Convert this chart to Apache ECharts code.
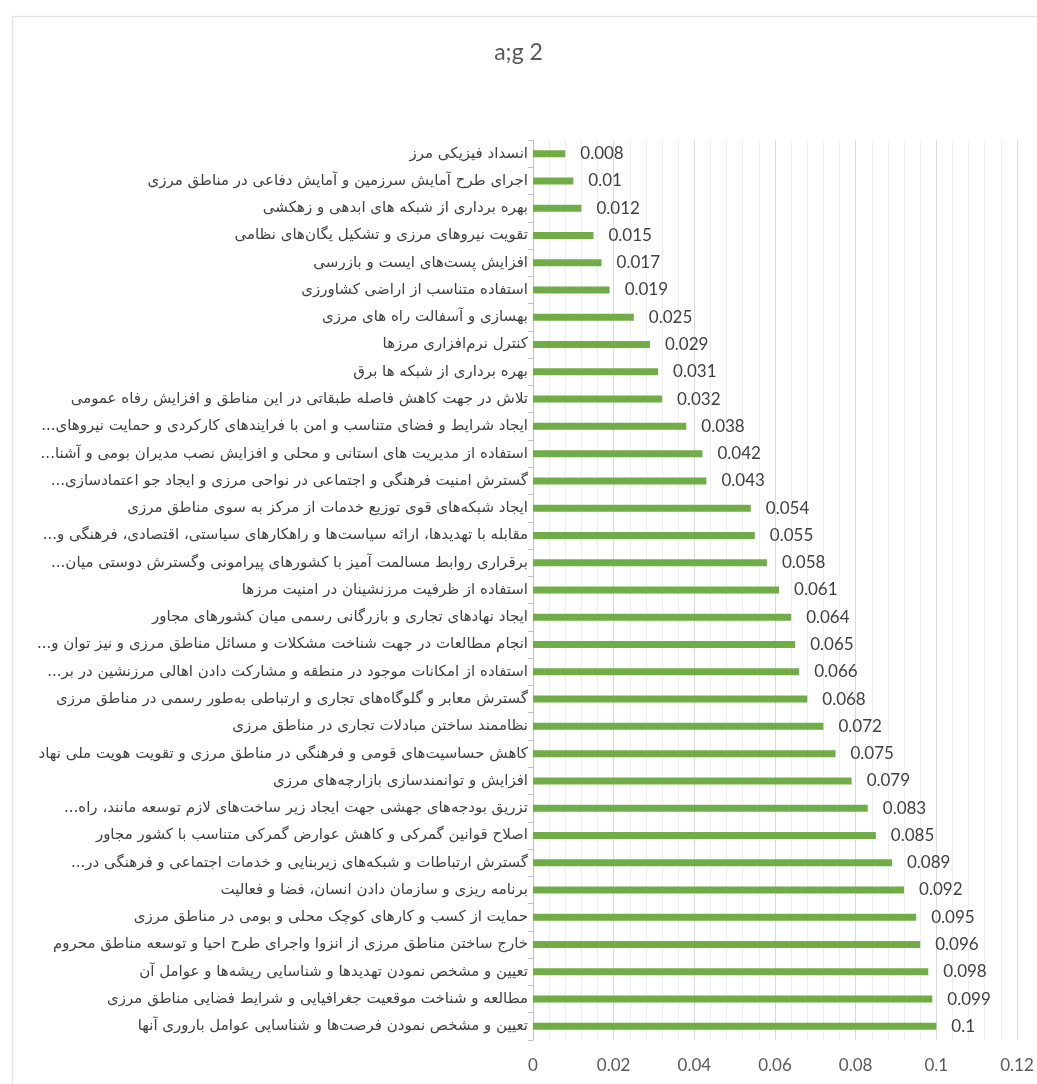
<!DOCTYPE html>
<html>
<head>
<meta charset="utf-8">
<script src="https://cdn.jsdelivr.net/npm/echarts@6/dist/echarts.min.js"></script>
<style>
html,body{margin:0;padding:0;background:#fff;}
#chart{width:1037px;height:1084px;}
</style>
</head>
<body>
<div id="chart"></div>
<script>
// categories, top to bottom
const categories = [
  "انسداد فیزیکی مرز",
  "اجرای طرح آمایش سرزمین و آمایش دفاعی در مناطق مرزی",
  "بهره برداری از شبکه های ابدهی و زهکشی",
  "تقویت نیروهای مرزی و تشکیل یگان‌های نظامی",
  "افزایش پست‌های ایست و بازرسی",
  "استفاده متناسب از اراضی کشاورزی",
  "بهسازی و آسفالت راه های مرزی",
  "کنترل نرم‌افزاری مرزها",
  "بهره برداری از شبکه ها برق",
  "تلاش در جهت کاهش فاصله طبقاتی در این مناطق و افزایش رفاه عمومی",
  "ایجاد شرایط و فضای متناسب و امن با فرایندهای کارکردی و حمایت نیروهای...",
  "استفاده از مدیریت های استانی و محلی و افزایش نصب مدیران بومی و آشنا...",
  "گسترش امنیت فرهنگی و اجتماعی در نواحی مرزی و ایجاد جو اعتمادسازی...",
  "ایجاد شبکه‌های قوی توزیع خدمات از مرکز به سوی مناطق مرزی",
  "مقابله با تهدیدها، ارائه سیاست‌ها و راهکارهای سیاستی، اقتصادی، فرهنگی و...",
  "برقراری روابط مسالمت آمیز با کشورهای پیرامونی وگسترش دوستی میان...",
  "استفاده از ظرفیت مرزنشینان در امنیت مرزها",
  "ایجاد نهادهای تجاری و بازرگانی رسمی میان کشورهای مجاور",
  "انجام مطالعات در جهت شناخت مشکلات و مسائل مناطق مرزی و نیز توان و...",
  "استفاده از امکانات موجود در منطقه و مشارکت دادن اهالی مرزنشین در بر...",
  "گسترش معابر و گلوگاه‌های تجاری و ارتباطی به‌طور رسمی در مناطق مرزی",
  "نظاممند ساختن مبادلات تجاری در مناطق مرزی",
  "کاهش حساسیت‌های قومی و فرهنگی در مناطق مرزی و تقویت هویت ملی نهاد",
  "افزایش و توانمندسازی بازارچه‌های مرزی",
  "تزریق بودجه‌های جهشی جهت ایجاد زیر ساخت‌های لازم توسعه مانند، راه...",
  "اصلاح قوانین گمرکی و کاهش عوارض گمرکی متناسب با کشور مجاور",
  "گسترش ارتباطات و شبکه‌های زیربنایی و خدمات اجتماعی و فرهنگی در...",
  "برنامه ریزی و سازمان دادن انسان، فضا و فعالیت",
  "حمایت از کسب و کارهای کوچک محلی و بومی در مناطق مرزی",
  "خارج ساختن مناطق مرزی از انزوا واجرای طرح احیا و توسعه مناطق محروم",
  "تعیین و مشخص نمودن تهدیدها و شناسایی ریشه‌ها و عوامل آن",
  "مطالعه و شناخت موقعیت جغرافیایی و شرایط فضایی مناطق مرزی",
  "تعیین و مشخص نمودن فرصت‌ها و شناسایی عوامل باروری آنها"
];
const values = [
  0.008, 0.01, 0.012, 0.015, 0.017, 0.019, 0.025, 0.029, 0.031, 0.032,
  0.038, 0.042, 0.043, 0.054, 0.055, 0.058, 0.061, 0.064, 0.065, 0.066,
  0.068, 0.072, 0.075, 0.079, 0.083, 0.085, 0.089, 0.092, 0.095, 0.096,
  0.098, 0.099, 0.1
];
const xTicks = { min: 0, max: 0.12, interval: 0.02 };
const titleText = "a;g 2";

const chart = echarts.init(document.getElementById('chart'));
chart.setOption({
  animation: false,
  backgroundColor: '#ffffff',
  title: {
    text: titleText,
    left: 'center',
    top: 36,
    textStyle: { fontFamily: 'Lato', fontSize: 23, fontWeight: 'normal', color: '#595959' }
  },
  graphic: [{
    type: 'rect',
    left: 10, top: 14,
    shape: { width: 1040, height: 1080 },
    style: { fill: 'none', stroke: '#e3e3e3', lineWidth: 1.5 },
    silent: true
  }],
  grid: { left: 533, right: 20, top: 140, bottom: 44, containLabel: false },
  xAxis: {
    type: 'value',
    min: xTicks.min, max: xTicks.max, interval: xTicks.interval,
    axisLine: { show: false },
    axisTick: { show: false },
    splitLine: { show: true, lineStyle: { color: '#d9d9d9', width: 1 } },
    minorTick: { show: false, splitNumber: 5 },
    minorSplitLine: { show: true, lineStyle: { color: '#eeeeee', width: 1 } },
    axisLabel: { color: '#595959', fontSize: 17, fontFamily: 'Lato', margin: 17 }
  },
  yAxis: {
    type: 'category',
    inverse: true,
    data: categories,
    axisLine: { show: true, lineStyle: { color: '#bfbfbf', width: 1 } },
    axisTick: { show: true, length: 5, lineStyle: { color: '#bfbfbf' } },
    axisLabel: {
      color: '#404040', fontSize: 15, fontFamily: 'DejaVu Sans', margin: 5,
      formatter: v => '\u200F' + v + '\u200F'
    }
  },
  series: [{
    type: 'bar',
    data: values,
    barWidth: 7,
    itemStyle: { color: '#70AD47' },
    label: {
      show: true, position: 'right', distance: 15,
      color: '#404040', fontSize: 17, fontFamily: 'Lato'
    }
  }]
});
</script>
</body>
</html>
